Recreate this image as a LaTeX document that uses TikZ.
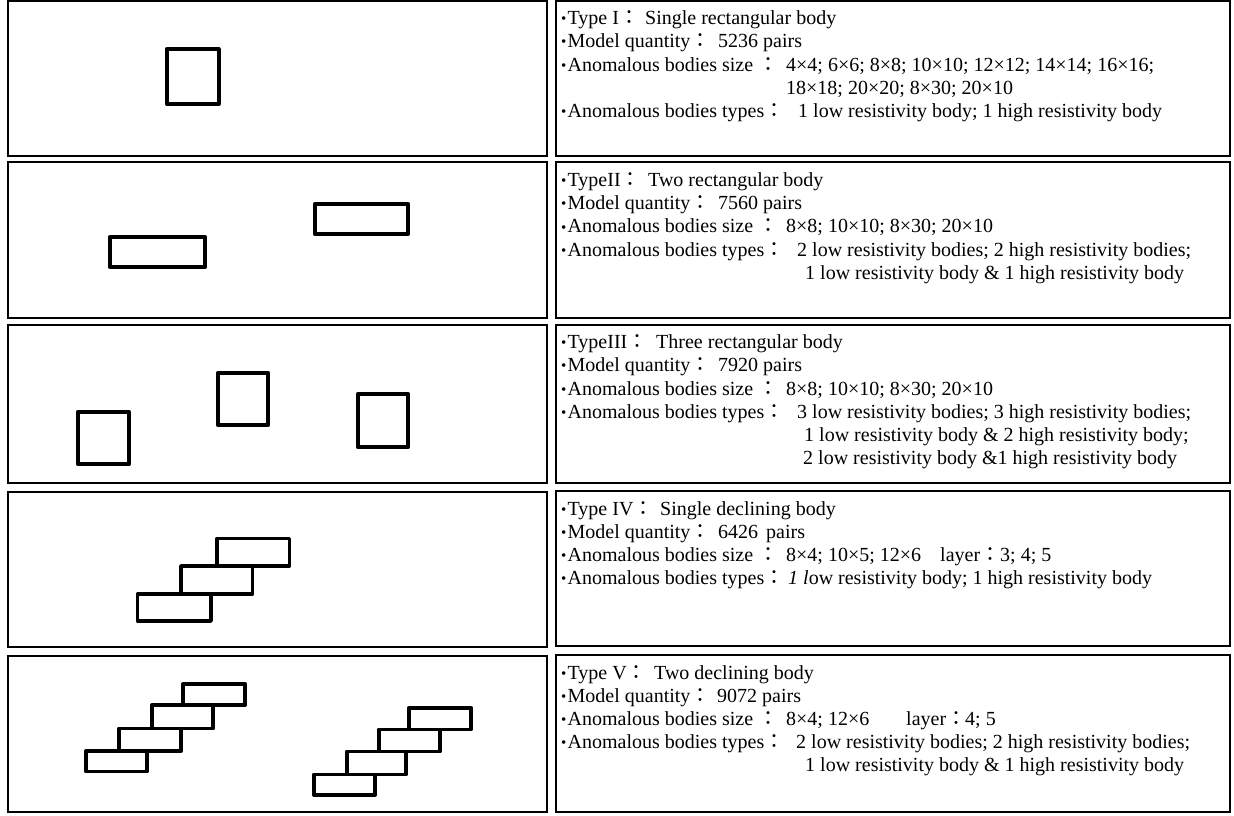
\documentclass[tikz,border=0pt]{standalone}
\usepackage{fontspec}
\setmainfont{Liberation Serif}
\newfontfamily\cjk{Noto Sans CJK JP}
\newcommand{\cc}{{\cjk ：}}
\newcommand{\bul}{\raisebox{0.6pt}{\fontsize{15}{15}\selectfont •}\hspace{1.2pt}}
\begin{document}
\begin{tikzpicture}[x=1pt,y=-1pt,
  panel/.style={draw=black, line width=2.4pt},
  body/.style={draw=black, line width=3.6pt, line join=round},
  txt/.style={anchor=base west, inner sep=0pt, font=\fontsize{20}{23}\selectfont}]
\useasboundingbox (0,0) rectangle (1234,816);

% ---------- panels ----------
\draw[panel] (8,1.2) rectangle (547,156);
\draw[panel] (556,1.2) rectangle (1230,156);
\draw[panel] (8,162) rectangle (547,318);
\draw[panel] (556,162) rectangle (1230,318);
\draw[panel] (8,325) rectangle (547,483);
\draw[panel] (556,325) rectangle (1230,483);
\draw[panel] (8,492) rectangle (547,647);
\draw[panel] (556,491) rectangle (1230,646);
\draw[panel] (8,656) rectangle (547,812);
\draw[panel] (556,655) rectangle (1230,812);

% ---------- bodies ----------
% Type I
\draw[body] (166.8,48.8) rectangle (218.7,104.2);
% Type II
\draw[body] (314.8,203.8) rectangle (408.2,234.2);
\draw[body] (109.8,236.8) rectangle (205.2,267.2);
% Type III
\draw[body] (77.8,411.8) rectangle (129.2,464.2);
\draw[body] (217.8,372.8) rectangle (268.2,425.2);
\draw[body] (357.8,393.8) rectangle (408.2,447.2);
% Type IV
\draw[body] (217,538.5) rectangle (289.5,566);
\draw[body] (181,566) rectangle (252.5,594);
\draw[body] (137.5,594) rectangle (211,621);
% Type V left
\draw[body] (183,683.8) rectangle (245.2,705);
\draw[body] (151.8,705) rectangle (213.2,728.5);
\draw[body] (118.8,728.5) rectangle (181.2,751);
\draw[body] (85.8,751) rectangle (147.2,771.5);
% Type V right
\draw[body] (408.8,707.8) rectangle (471.2,729.5);
\draw[body] (378.8,729.5) rectangle (440.2,751.5);
\draw[body] (346.8,751.5) rectangle (406.2,774.5);
\draw[body] (313.8,774.5) rectangle (375.2,795);

% ---------- texts, row 1 ----------
\node[txt] (a1) at (561,24.5) {\bul Type I\cc};
\node[txt] (a1v) at (645,24.5) {Single rectangular body};
\node[txt] (a2) at (561,47.5) {\bul Model quantity\cc};
\node[txt] (a2v) at (718,47.5) {5236 pairs};
\node[txt] (a3) at (561,71) {\bul Anomalous bodies size \cc};
\node[txt] (a3v) at (786,71) {4×4; 6×6; 8×8; 10×10; 12×12; 14×14; 16×16;};
\node[txt] (a4v) at (786,94) {18×18; 20×20; 8×30; 20×10};
\node[txt] (a5) at (561,117.5) {\bul Anomalous bodies types\cc};
\node[txt] (a5v) at (798,117.5) {1 low resistivity body; 1 high resistivity body};

% ---------- row 2 ----------
\node[txt] (b1) at (561,186.5) {\bul TypeII\cc};
\node[txt] (b1v) at (648,186.5) {Two rectangular body};
\node[txt] (b2) at (561,209.5) {\bul Model quantity\cc};
\node[txt] (b2v) at (718,209.5) {7560 pairs};
\node[txt] (b3) at (561,232.8) {\bul Anomalous bodies size \cc};
\node[txt] (b3v) at (786,232.8) {8×8; 10×10; 8×30; 20×10};
\node[txt] (b4) at (561,256) {\bul Anomalous bodies types\cc};
\node[txt] (b4v) at (797,256) {2 low resistivity bodies; 2 high resistivity bodies;};
\node[txt] (b5v) at (805,279.2) {1 low resistivity body \& 1 high resistivity body};

% ---------- row 3 ----------
\node[txt] (c1) at (561,348.5) {\bul TypeIII\cc};
\node[txt] (c1v) at (656,348.5) {Three rectangular body};
\node[txt] (c2) at (561,371.5) {\bul Model quantity\cc};
\node[txt] (c2v) at (718,371.5) {7920 pairs};
\node[txt] (c3) at (561,395) {\bul Anomalous bodies size \cc};
\node[txt] (c3v) at (786,395) {8×8; 10×10; 8×30; 20×10};
\node[txt] (c4) at (561,418) {\bul Anomalous bodies types\cc};
\node[txt] (c4v) at (797,418) {3 low resistivity bodies; 3 high resistivity bodies;};
\node[txt] (c5v) at (804,441.2) {1 low resistivity body \& 2 high resistivity body;};
\node[txt] (c6v) at (803,464.4) {2 low resistivity body \&1 high resistivity body};

% ---------- row 4 ----------
\node[txt] (d1) at (561,515) {\bul Type IV\cc};
\node[txt] (d1v) at (660,515) {Single declining body};
\node[txt] (d2) at (561,538) {\bul Model quantity\cc};
\node[txt] (d2v) at (718,538) {6426};
\node[txt] (d2w) at (766,538) {pairs};
\node[txt] (d3) at (561,561.3) {\bul Anomalous bodies size \cc};
\node[txt] (d3v) at (786,561.3) {8×4; 10×5; 12×6};
\node[txt] (d3l) at (940,561.3) {layer\cc};
\node[txt] (d3n) at (1000,561.3) {3; 4; 5};
\node[txt] (d4) at (561,584.5) {\bul Anomalous bodies types\cc};
\node[txt] (d4v) at (788,584.5) {\textit{1 l}ow resistivity body; 1 high resistivity body};

% ---------- row 5 ----------
\node[txt] (e1) at (561,679) {\bul Type V\cc};
\node[txt] (e1v) at (654,679) {Two declining body};
\node[txt] (e2) at (561,702) {\bul Model quantity\cc};
\node[txt] (e2v) at (717,702) {9072 pairs};
\node[txt] (e3) at (561,725.3) {\bul Anomalous bodies size \cc};
\node[txt] (e3v) at (786,725.3) {8×4; 12×6};
\node[txt] (e3l) at (906,725.3) {layer\cc};
\node[txt] (e3n) at (965,725.3) {4; 5};
\node[txt] (e4) at (561,748.5) {\bul Anomalous bodies types\cc};
\node[txt] (e4v) at (796,748.5) {2 low resistivity bodies; 2 high resistivity bodies;};
\node[txt] (e5v) at (805,771.7) {1 low resistivity body \& 1 high resistivity body};
\end{tikzpicture}
\end{document}
